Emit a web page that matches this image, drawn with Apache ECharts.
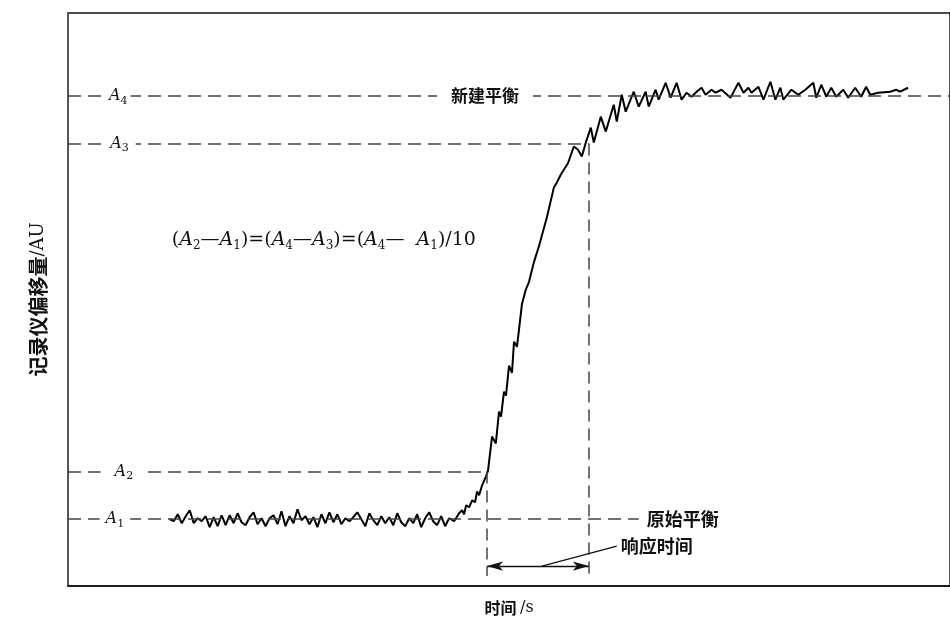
<!DOCTYPE html>
<html>
<head>
<meta charset="utf-8">
<script src="https://cdn.jsdelivr.net/npm/echarts@6/dist/echarts.min.js"></script>
<style>
  html, body { margin: 0; padding: 0; background: #fff; }
  #main { width: 950px; height: 621px; }
</style>
</head>
<body>
<div id="main"></div>
<script>
// recorder trace (time units / AU)
var time = [
  25.5, 26.5, 27.5, 28.5, 29.5, 30.5, 31.5, 32.5, 33.5, 34.5, 35.5, 36.5, 37.5, 38.5, 39.5, 40.5,
  41.5, 42.5, 43.5, 44.5, 45.5, 46.5, 47.5, 48.5, 49.5, 50.5, 51.5, 52.5, 53.5, 54.5, 55.5, 56.5,
  57.5, 58.5, 59.5, 60.5, 61.5, 62.5, 63.5, 64.5, 65.5, 66.5, 67.5, 68.5, 69.5, 70.5, 71.5, 72.5,
  73.5, 74.5, 75.5, 76.5, 77.5, 78.5, 79.5, 80.5, 81.5, 82.5, 83.5, 84.5, 85.5, 86.5, 87.5, 88.5,
  89.5, 90.5, 91.5, 92.5, 93.5, 94.5, 95.5, 96.75, 98, 98.75, 99.25, 99.75, 100.5, 101.25, 102,
  102.5, 103, 103.75, 104.75, 105.25, 106.25, 107.2, 108, 108.5, 109.25, 109.75, 110.5, 111.25,
  111.75, 112.5, 113.75, 114.25, 114.75, 115.5, 116.75, 118, 120, 121.75, 122.5, 123.5, 124.75,
  125.25, 126.75, 127.75, 128.75, 129.75, 131, 131.75, 133.5, 134.75, 136.75, 137.5, 138.75,
  139.75, 141.75, 143, 144.75, 145.5, 147.25, 148, 149.75, 151, 152.5, 153.75, 155, 156.25,
  157.5, 158.75, 159.75, 161.25, 162.25, 163.75, 166, 168, 169.25, 170.5, 171.25, 173, 174.25,
  176, 177.25, 178.5, 179.25, 181.25, 183, 184.75, 186.75, 187.5, 188.75, 190, 191.25, 192.5,
  194.25, 195.5, 197.25, 198.75, 200, 201, 203, 206, 207.5, 208.5, 210.5
];
var deflection = [
  13.4, 13.0, 14.4, 12.6, 14.0, 15.2, 12.6, 13.6, 13.0, 14.0, 11.8, 13.8, 12.0, 14.2, 12.2, 14.2,
  12.6, 14.6, 12.8, 12.2, 13.8, 14.8, 12.4, 13.6, 12.0, 13.6, 14.2, 12.4, 15.0, 12.0, 14.0, 12.6,
  15.4, 13.2, 14.0, 12.4, 13.8, 11.8, 14.4, 12.6, 14.8, 12.8, 14.4, 12.4, 13.6, 13.0, 13.8, 14.8,
  13.4, 12.0, 14.6, 13.2, 12.2, 14.0, 12.6, 13.8, 12.2, 14.6, 12.8, 12.0, 13.6, 12.6, 14.4, 11.8,
  13.6, 14.8, 13.0, 12.2, 14.0, 12.0, 13.6, 13.0, 14.6, 15.2, 14.4, 16.2, 15.8, 17.2, 16.8,
  19.0, 18.2, 20.2, 22.0, 23.2, 30.0, 28.6, 35.0, 34.0, 39.0, 38.2, 44.2, 42.8,
  49.0, 48.0, 56.6, 56.4, 59.6, 61.0, 65.0, 68.2, 74.0, 80.0, 81.0, 82.6, 84.2,
  84.8, 88.2, 87.6, 86.2, 89.0, 92.0, 89.0, 94.2, 91.2, 96.6, 93.2, 98.6,
  95.2, 99.2, 96.2, 99.2, 96.2, 99.6, 97.6, 101.0, 98.0, 101.0, 97.6, 99.0, 98.2,
  99.2, 100.0, 98.6, 99.6, 99.0, 99.6, 98.0, 101.0, 99.0, 100.0, 99.0, 100.2, 97.6,
  101.2, 97.6, 100.0, 97.6, 99.6, 98.6, 99.6, 101.0, 98.0, 100.6, 98.2, 100.0, 98.2,
  99.6, 98.0, 100.0, 98.2, 100.2, 98.6, 99.0, 99.2, 99.6, 99.2, 100.0
];
var levelNames = ['1', '2', '3', '4'];          // A1..A4
var levelValues = [13.4, 23.0, 88.8, 98.4];
var responseStart = 105;
var responseEnd = 130.5;

var serif = '"DejaVu Serif", "Liberation Serif", serif';
var cjk = '"Noto Sans CJK SC", sans-serif';

var chart = echarts.init(document.getElementById('main'));

var dash = { type: [13, 7], color: '#444', width: 1.5 };
var vdash = { type: [12, 7], color: '#444', width: 1.5 };

function levelLabel(i, x, pad) {
  return {
    value: [x, levelValues[i]],
    label: {
      show: true,
      position: 'inside',
      formatter: '{a|A}{s|' + levelNames[i] + '}',
      backgroundColor: '#fff',
      padding: [0, pad, 0, pad],
      rich: {
        a: { fontFamily: serif, fontStyle: 'italic', fontSize: 16, color: '#111' },
        s: { fontFamily: serif, fontSize: 11, color: '#111', padding: [10, 0, 0, 0] }
      }
    }
  };
}

var formulaText =
  '{n|(}{a|A}{s|2}{n|—}{a|A}{s|1}{n|)=(}{a|A}{s|4}{n|—}{a|A}{s|3}{n|)=(}{a|A}{s|4}{n|—  }{a|A}{s|1}{n|)/10}';

chart.setOption({
  animation: false,
  grid: {
    left: 68,
    top: 13,
    right: -2,
    bottom: 33,
    show: true,
    borderColor: '#111',
    borderWidth: 1.5
  },
  xAxis: {
    type: 'value',
    min: 0,
    max: 221,
    name: '{c|时间 }{l|/s}',
    nameLocation: 'middle',
    nameGap: 14,
    nameTextStyle: {
      rich: {
        c: { fontFamily: cjk, fontSize: 16, fontWeight: 'bold', color: '#111' },
        l: { fontFamily: serif, fontSize: 16, color: '#111' }
      }
    },
    axisLine: { show: true, lineStyle: { color: '#111', width: 1.5 } },
    axisTick: { show: false },
    axisLabel: { show: false },
    splitLine: { show: false }
  },
  yAxis: {
    type: 'value',
    min: 0,
    max: 115,
    name: '{c|记录仪偏移量}{l|/AU}',
    nameLocation: 'middle',
    nameRotate: 90,
    nameGap: 20,
    nameTextStyle: {
      rich: {
        c: { fontFamily: cjk, fontSize: 20, fontWeight: 'bold', color: '#111' },
        l: { fontFamily: serif, fontSize: 18, color: '#111' }
      }
    },
    axisLine: { show: true, lineStyle: { color: '#555', width: 2 } },
    axisTick: { show: false },
    axisLabel: { show: false },
    splitLine: { show: false }
  },
  series: [
    {
      name: 'guides',
      type: 'line',
      data: [],
      z: 1,
      markLine: {
        silent: true,
        symbol: ['none', 'none'],
        label: { show: false },
        lineStyle: dash,
        data: [
          [{ coord: [0, levelValues[0]] }, { coord: [143, levelValues[0]] }],
          [{ coord: [0, levelValues[1]] }, { coord: [responseStart, levelValues[1]] }],
          [{ coord: [0, levelValues[2]] }, { coord: [responseEnd, levelValues[2]] }],
          [{ coord: [0, levelValues[3]] }, { coord: [221, levelValues[3]] }],
          [{ coord: [responseStart, levelValues[1]], lineStyle: vdash }, { coord: [responseStart, 2] }],
          [{ coord: [responseEnd, levelValues[2]], lineStyle: vdash }, { coord: [responseEnd, 2] }]
        ]
      }
    },
    {
      name: 'arrow',
      type: 'line',
      data: [],
      z: 2,
      markLine: {
        silent: true,
        symbol: ['arrow', 'arrow'],
        symbolSize: [7, 16],
        label: { show: false },
        lineStyle: { type: 'solid', color: '#111', width: 1.3 },
        data: [
          [{ coord: [responseStart, 4] }, { coord: [responseEnd, 4] }],
          [{ coord: [118.75, 4], symbol: 'none' }, { coord: [137.5, 8], symbol: 'none' }]
        ]
      }
    },
    {
      name: 'trace',
      type: 'line',
      z: 3,
      showSymbol: false,
      symbol: 'none',
      lineStyle: { color: '#000', width: 2 },
      data: time.map(function (t, i) { return [t, deflection[i]]; })
    },
    {
      name: 'notes',
      type: 'scatter',
      z: 10,
      symbolSize: 0,
      silent: true,
      itemStyle: { opacity: 1 },
      data: [
        levelLabel(0, 11.75, 6),
        levelLabel(1, 14, 14),
        levelLabel(2, 12.9, 7),
        levelLabel(3, 12.6, 3),
        {
          value: [104.5, levelValues[3]],
          label: {
            show: true, position: 'inside', formatter: '新建平衡',
            backgroundColor: '#fff', padding: [0, 14, 0, 14],
            fontFamily: cjk, fontSize: 17, fontWeight: 'bold', color: '#111'
          }
        },
        {
          value: [145, levelValues[0]],
          label: {
            show: true, position: 'right', distance: 0, formatter: '原始平衡',
            fontFamily: cjk, fontSize: 18, fontWeight: 'bold', color: '#111'
          }
        },
        {
          value: [138.5, 8],
          label: {
            show: true, position: 'right', distance: 0, formatter: '响应时间',
            fontFamily: cjk, fontSize: 18, fontWeight: 'bold', color: '#111'
          }
        },
        {
          value: [26, 69.4],
          label: {
            show: true, position: 'right', distance: 0, formatter: formulaText,
            rich: {
              n: { fontFamily: serif, fontSize: 19, color: '#111' },
              a: { fontFamily: serif, fontStyle: 'italic', fontSize: 19, color: '#111' },
              s: { fontFamily: serif, fontSize: 12, color: '#111', padding: [11, 0, 0, 0] }
            }
          }
        }
      ]
    }
  ]
});
</script>
</body>
</html>
